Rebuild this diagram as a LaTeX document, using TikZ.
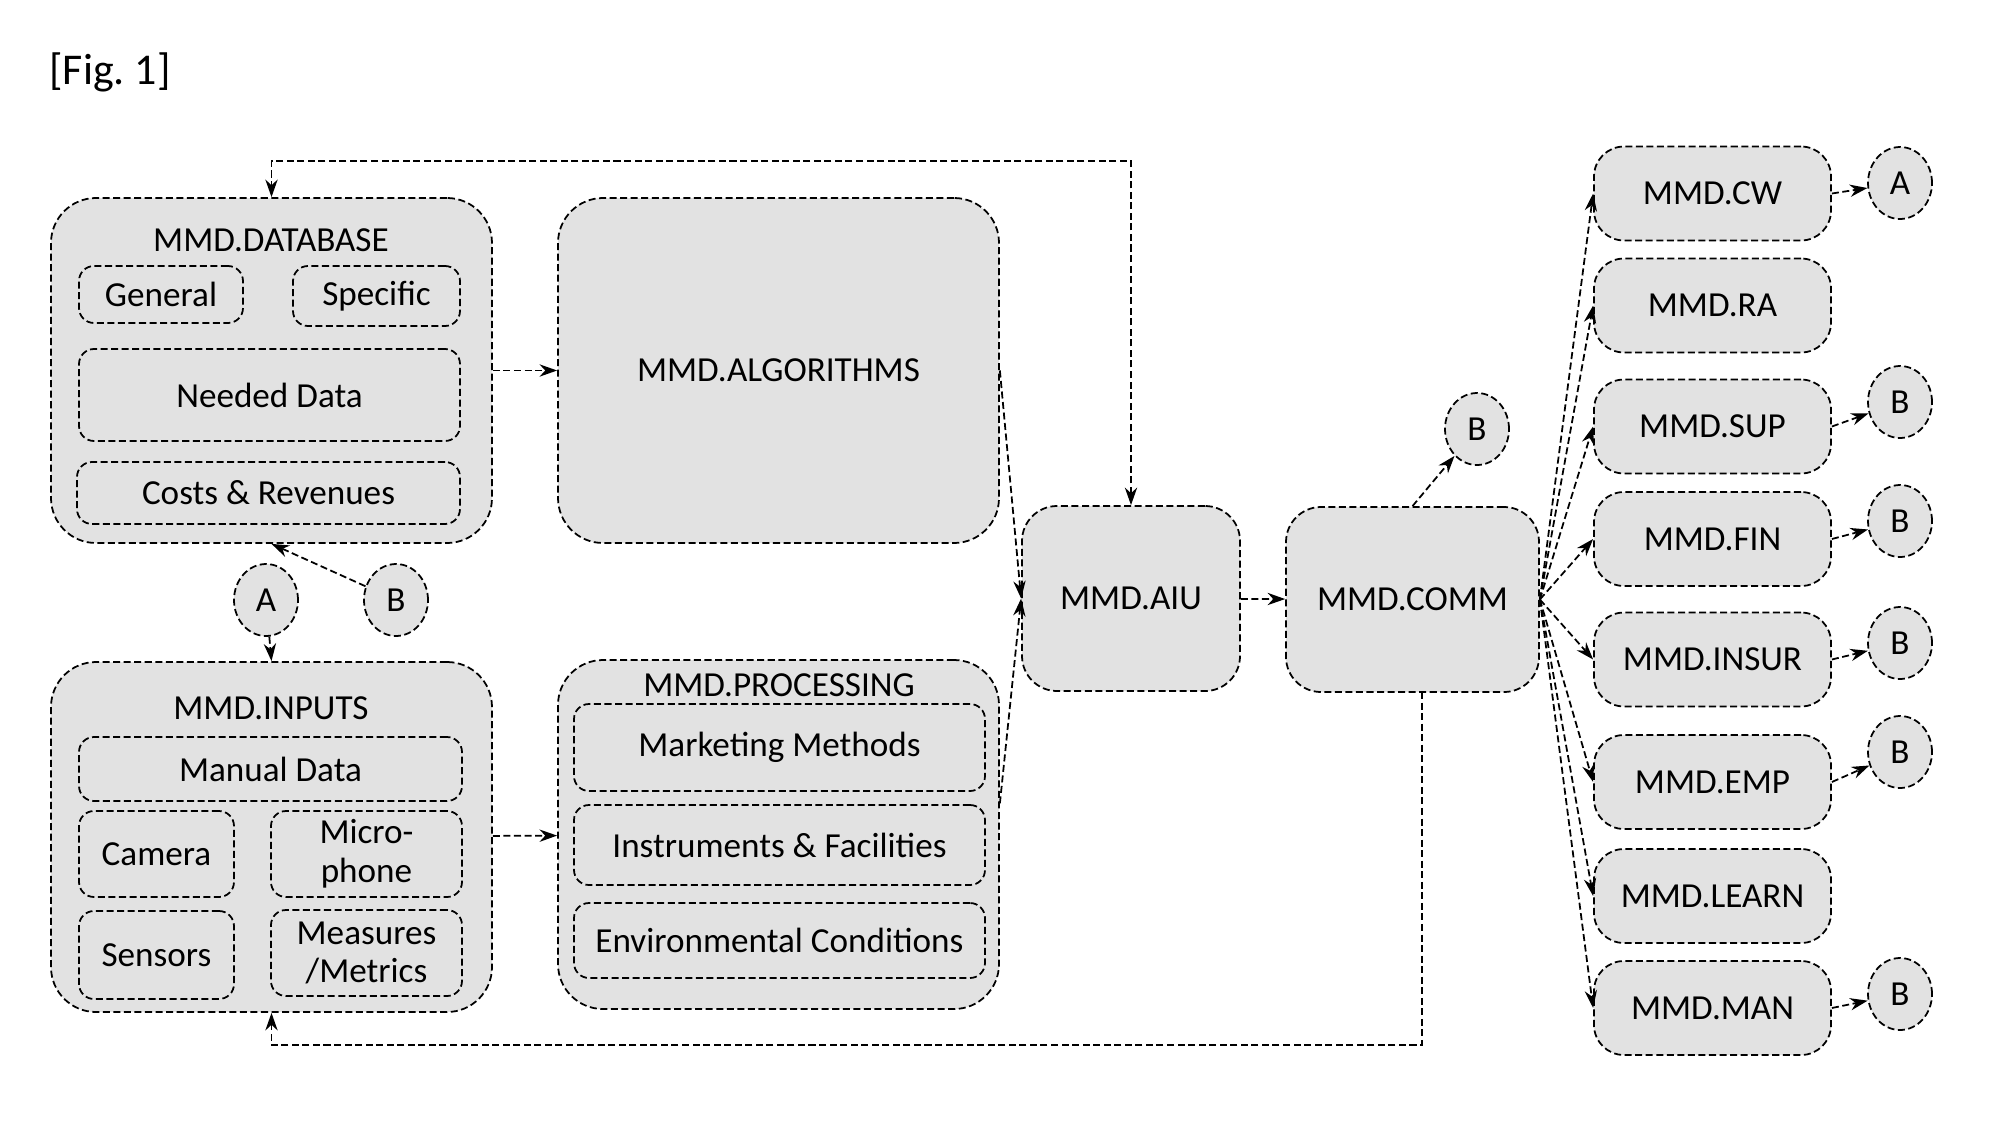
\documentclass[tikz,border=0pt]{standalone}
\usepackage{fontspec}
\setmainfont{Carlito}
\usetikzlibrary{shapes.geometric, arrows.meta}
\definecolor{dotgray}{RGB}{226,226,226}

\tikzset{
  dashline/.style={dash pattern=on 2pt off 1pt, line width=0.5pt},
  outerbox/.style={draw, dashline, fill=dotgray, rounded corners=0.45cm, minimum width=4.41cm},
  innerbox/.style={draw, dashline, fill=dotgray, rounded corners=0.15cm, align=center, inner sep=1pt},
  unitbox/.style={draw, dashline, fill=dotgray, rounded corners=0.3cm, minimum width=2.37cm, minimum height=0.94cm},
  refcircle/.style={ellipse, draw, dashline, fill=dotgray, minimum width=0.64cm, minimum height=0.72cm, inner sep=0pt}
}

\begin{document}
\begin{tikzpicture}[y=-1cm, font=\fontsize{10}{11}\selectfont, >={Stealth[length=5pt,width=3.5pt]}]
\useasboundingbox (0,0) rectangle (20.03,11.43);

\node (fig) at (1.10,0.72) {\fontsize{12.5}{14}\selectfont [Fig.~1]};

% Database
\node[outerbox, minimum height=3.45cm] (db) at (2.715,3.705) {};
\node (dbtitle) at (2.71,2.40) {MMD.DATABASE};
\node[innerbox, minimum width=1.64cm, minimum height=0.57cm] (gen) at (1.61,2.945) {General};
\node[innerbox, minimum width=1.67cm, minimum height=0.60cm] (spec) at (3.765,2.96) {Specific};
\node[innerbox, minimum width=3.81cm, minimum height=0.92cm] (need) at (2.695,3.95) {Needed Data};
\node[innerbox, minimum width=3.83cm, minimum height=0.62cm] (cost) at (2.685,4.93) {Costs \& Revenues};

% Algorithms
\node[outerbox, minimum height=3.45cm] (alg) at (7.785,3.705) {MMD.ALGORITHMS};

% Inputs
\node[outerbox, minimum height=3.50cm] (inp) at (2.715,8.37) {};
\node (inptitle) at (2.71,7.08) {MMD.INPUTS};
\node[innerbox, minimum width=3.83cm, minimum height=0.64cm] (man) at (2.705,7.69) {Manual Data};
\node[innerbox, minimum width=1.55cm, minimum height=0.86cm] (cam) at (1.565,8.54) {Camera};
\node[innerbox, minimum width=1.91cm, minimum height=0.86cm] (mic) at (3.665,8.54) {Micro-\\phone};
\node[innerbox, minimum width=1.55cm, minimum height=0.88cm] (sens) at (1.565,9.55) {Sensors};
\node[innerbox, minimum width=1.91cm, minimum height=0.86cm] (meas) at (3.665,9.53) {Measures\\/Metrics};

% Processing
\node[outerbox, minimum height=3.49cm] (proc) at (7.785,8.345) {};
\node (proctitle) at (7.79,6.85) {MMD.PROCESSING};
\node[innerbox, minimum width=4.11cm, minimum height=0.87cm] (mkt) at (7.795,7.475) {Marketing Methods};
\node[innerbox, minimum width=4.11cm, minimum height=0.80cm] (inst) at (7.795,8.45) {Instruments \& Facilities};
\node[innerbox, minimum width=4.11cm, minimum height=0.75cm] (env) at (7.795,9.405) {Environmental Conditions};

% Core units
\node[draw, dashline, fill=dotgray, rounded corners=0.35cm, minimum width=2.18cm, minimum height=1.85cm] (aiu) at (11.31,5.985) {MMD.AIU};
\node[draw, dashline, fill=dotgray, rounded corners=0.35cm, minimum width=2.53cm, minimum height=1.85cm] (comm) at (14.125,5.995) {MMD.COMM};

% Output units
\node[unitbox] (cw) at (17.125,1.935) {MMD.CW};
\node[unitbox] (ra) at (17.125,3.055) {MMD.RA};
\node[unitbox] (sup) at (17.125,4.265) {MMD.SUP};
\node[unitbox] (fin) at (17.125,5.39) {MMD.FIN};
\node[unitbox] (insur) at (17.125,6.595) {MMD.INSUR};
\node[unitbox] (emp) at (17.125,7.82) {MMD.EMP};
\node[unitbox] (learn) at (17.125,8.96) {MMD.LEARN};
\node[unitbox] (mman) at (17.125,10.08) {MMD.MAN};

% Reference circles
\node[refcircle] (aleft) at (2.66,6.00) {A};
\node[refcircle] (bleft) at (3.96,6.00) {B};
\node[refcircle] (bcomm) at (14.77,4.29) {B};
\node[refcircle] (acw) at (19.00,1.83) {A};
\node[refcircle] (bsup) at (19.00,4.02) {B};
\node[refcircle] (bfin) at (19.00,5.21) {B};
\node[refcircle] (binsur) at (19.00,6.43) {B};
\node[refcircle] (bemp) at (19.00,7.52) {B};
\node[refcircle] (bman) at (19.00,9.94) {B};

% Connectors
\coordinate (looptop) at (0,1.61);
\coordinate (loopbot) at (0,10.45);
\coordinate (commout) at (14.22,6.92);
\draw[dashline, ->] (db) -- (alg);
\draw[dashline, ->] (inp) -- (proc);
\draw[dashline, ->] (alg.east) -- (aiu.west);
\draw[dashline, ->] (proc.8) -- (aiu.west);
\draw[dashline, ->] (aiu) -- (comm);
\draw[dashline, <->] (aiu.north) -- (aiu.north |- looptop) -- (db.north |- looptop) -- (db.north);
\draw[dashline, ->] (commout) -- (commout |- loopbot) -- (inp.south |- loopbot) -- (inp.south);
\draw[dashline, ->] (bleft) -- (db.south);
\draw[dashline, ->] (aleft) -- (inp.north);
\draw[dashline, ->] (comm.north) -- (bcomm);

\draw[dashline, ->] (comm.east) -- (cw.west);
\draw[dashline, ->] (comm.east) -- (ra.west);
\draw[dashline, ->] (comm.east) -- (sup.west);
\draw[dashline, ->] (comm.east) -- (fin.west);
\draw[dashline, ->] (comm.east) -- (insur.west);
\draw[dashline, ->] (comm.east) -- (emp.west);
\draw[dashline, ->] (comm.east) -- (learn.west);
\draw[dashline, ->] (comm.east) -- (mman.west);

\draw[dashline, ->] (cw.east) -- (acw);
\draw[dashline, ->] (sup.east) -- (bsup);
\draw[dashline, ->] (fin.east) -- (bfin);
\draw[dashline, ->] (insur.east) -- (binsur);
\draw[dashline, ->] (emp.east) -- (bemp);
\draw[dashline, ->] (mman.east) -- (bman);

\end{tikzpicture}
\end{document}
